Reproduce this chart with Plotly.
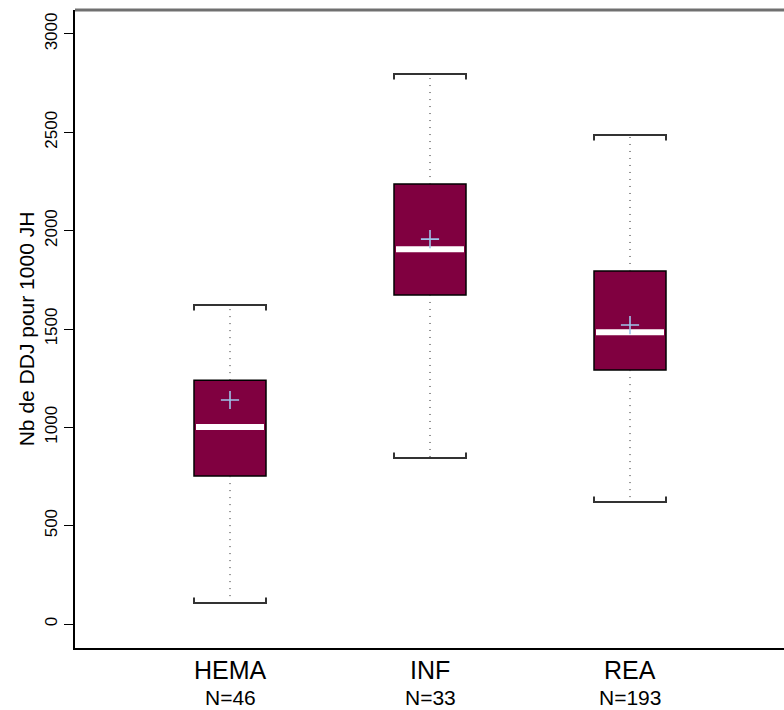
import plotly.graph_objects as go

categories = ["HEMA", "INF", "REA"]
n_obs = [46, 33, 193]
lower_whisker = [107, 844, 620]
q1 = [752, 1673, 1291]
median = [1002, 1906, 1484]
q3 = [1240, 2237, 1795]
upper_whisker = [1622, 2796, 2486]
mean_val = [1139, 1957, 1520]
y_ticks = [0, 500, 1000, 1500, 2000, 2500, 3000]

BOX_FILL = "#800040"
HALF = 0.18
CAP_TICK = 28

fig = go.Figure()
shapes = []
annotations = []
for i, cat in enumerate(categories):
    x = i + 1
    # box
    shapes.append(dict(type="rect", xref="x", yref="y", x0=x - HALF, x1=x + HALF,
                       y0=q1[i], y1=q3[i], fillcolor=BOX_FILL,
                       line=dict(color="black", width=1.5), layer="below"))
    # whiskers (dotted)
    for y0, y1 in [(q3[i], upper_whisker[i]), (q1[i], lower_whisker[i])]:
        fig.add_trace(go.Scatter(x=[x, x], y=[y0, y1], mode="lines",
                                 line=dict(color="#222222", width=1, dash="1px,6px"),
                                 hoverinfo="skip", showlegend=False))
    # caps
    fig.add_trace(go.Scatter(
        x=[x - HALF, x - HALF, x + HALF, x + HALF],
        y=[upper_whisker[i] - CAP_TICK, upper_whisker[i], upper_whisker[i], upper_whisker[i] - CAP_TICK],
        mode="lines", line=dict(color="#333333", width=2), hoverinfo="skip", showlegend=False))
    fig.add_trace(go.Scatter(
        x=[x - HALF, x - HALF, x + HALF, x + HALF],
        y=[lower_whisker[i] + CAP_TICK, lower_whisker[i], lower_whisker[i], lower_whisker[i] + CAP_TICK],
        mode="lines", line=dict(color="#333333", width=2), hoverinfo="skip", showlegend=False))
    # median
    fig.add_trace(go.Scatter(x=[x - HALF + 0.01, x + HALF - 0.01], y=[median[i], median[i]],
                             mode="lines", line=dict(color="white", width=6),
                             hoverinfo="skip", showlegend=False))
    # category labels
    annotations.append(dict(x=x, xref="x", y=0, yref="paper", text=cat, showarrow=False,
                            yanchor="middle", yshift=-22, font=dict(size=25)))
    annotations.append(dict(x=x, xref="x", y=0, yref="paper", text=f"N={n_obs[i]}", showarrow=False,
                            yanchor="middle", yshift=-49, font=dict(size=21)))

# means
fig.add_trace(go.Scatter(x=[1, 2, 3], y=mean_val, mode="markers",
                         marker=dict(symbol="cross-thin", size=13,
                                     line=dict(color="#9ec3ea", width=1.6)),
                         showlegend=False))

# top border
shapes.append(dict(type="line", xref="paper", yref="paper", x0=0, x1=1, y0=1, y1=1,
                   line=dict(color="#707070", width=3)))

fig.update_layout(
    width=784, height=710,
    margin=dict(l=75, r=0, t=10, b=62),
    plot_bgcolor="white", paper_bgcolor="white",
    shapes=shapes, annotations=annotations,
    font=dict(family="Liberation Sans, Arial, sans-serif", color="black"),
    xaxis=dict(range=[0.225, 3.77], showticklabels=False, automargin=False,
               showgrid=False, zeroline=False, showline=True, linecolor="black", linewidth=2,
               ticks=""),
    yaxis=dict(range=[-122, 3122], tickvals=y_ticks, ticktext=[str(v) for v in y_ticks],
               tickangle=-90, showgrid=False, zeroline=False, showline=True, automargin=False,
               linecolor="black", linewidth=2, ticks="outside", ticklen=9, tickcolor="black",
               tickfont=dict(size=17),
               title=dict(text="Nb de DDJ pour 1000 JH", font=dict(size=21), standoff=2)),
)

fig.write_html("out.html")
